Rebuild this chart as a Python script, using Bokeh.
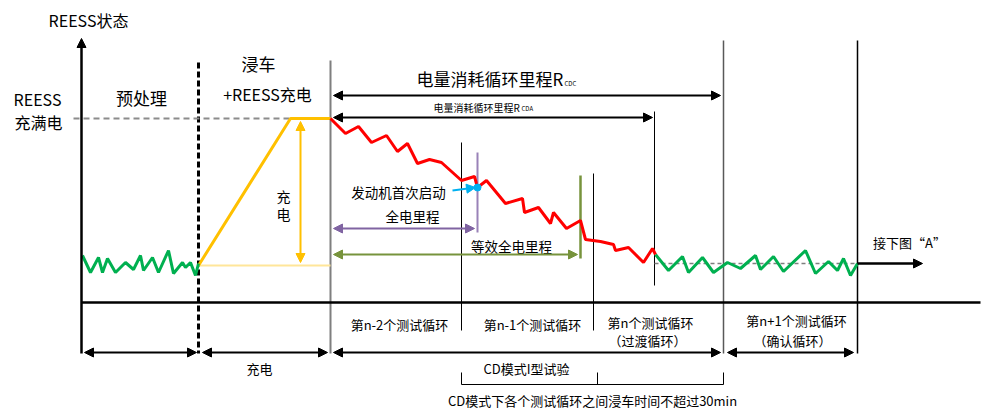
from bokeh.plotting import figure
from bokeh.models import Range1d, Arrow, NormalHead, ColumnDataSource
from bokeh.core.properties import value
from bokeh.embed import file_html
from bokeh.resources import INLINE

FONT = "Noto Sans CJK SC"

# ---- data (diagram coordinates, image-pixel space) ----
cs_pre_x = [82, 90, 98, 102, 107, 115, 125, 133, 140, 143, 152, 158, 168, 173, 182, 185, 190, 195, 198]
cs_pre_y = [255, 272, 257, 272, 258, 272, 262, 269, 255, 270, 257, 272, 250, 273, 262, 267, 262, 275, 263]

charge_x = [198, 290, 330]
charge_y = [265, 118, 118]

cd_x = [330, 345, 358, 371, 386, 397, 407, 417, 429, 441, 461, 474, 477, 486, 505, 522, 524, 538,
        550, 553, 566, 580, 585, 600, 613, 615, 628, 643, 652, 655]
cd_y = [118, 133, 126, 142, 135, 151, 143, 163, 159, 162, 180, 176, 187, 180, 203, 198, 212, 207,
        223, 212, 228, 220, 239, 241, 244, 250, 247, 262, 248, 254]

cs_post_x = [655, 668, 682, 688, 702, 713, 727, 740, 755, 760, 773, 783, 805, 815, 828, 837, 843, 850, 857]
cs_post_y = [254, 270, 256, 272, 257, 272, 262, 268, 255, 269, 256, 271, 250, 273, 261, 270, 258, 275, 263]

full_level = 118
cs_level = 263
engine_start = (477, 187)

# vertical guide lines: x, y_top, y_bottom, colour, width, dash
vlines = [
    (198, 62, 353, "black", 3, "6 3"),
    (330, 60, 353, "#7f7f7f", 2, "solid"),
    (461, 142, 330, "black", 1, "solid"),
    (477, 152, 232, "#9982B8", 2, "solid"),
    (580, 175, 258, "#77933C", 2.5, "solid"),
    (593, 173, 330, "black", 1, "solid"),
    (654, 111, 285, "black", 1, "solid"),
    (723, 40, 353, "#595959", 1.5, "solid"),
    (857, 40, 353, "black", 1.5, "solid"),
    (461, 372, 384, "black", 1, "solid"),
    (597, 372, 384, "black", 1, "solid"),
    (723, 372, 384, "black", 1, "solid"),
]

# horizontal lines: x0, x1, y, colour, width, dash
hlines = [
    (81, 980, 302, "black", 2.5, "solid"),
    (73, 290, full_level, "#8c8c8c", 2, "6 4"),
    (198, 330, 265, "#FFE699", 2, "solid"),
    (654, 857, cs_level, "#7f7f7f", 1.5, "4 3"),
    (461, 723, 384, "black", 1, "solid"),
]

# arrows: x0, y0, x1, y1, colour, width, double-headed
arrows = [
    (81, 353, 81, 38, "black", 2.5, False),
    (333, 95, 720, 95, "black", 2, True),
    (333, 117, 652, 117, "black", 2, True),
    (300, 121, 300, 262, "#FFC000", 2, True),
    (333, 228, 474, 228, "#8064A2", 2, True),
    (333, 254, 577, 254, "#77933C", 2, True),
    (452, 190, 475, 187, "#00B0F0", 2, False),
    (857, 263, 922, 263, "black", 2.5, False),
    (84, 352, 196, 352, "black", 2, True),
    (202, 352, 327, 352, "black", 2, True),
    (333, 352, 720, 352, "black", 2, True),
    (727, 352, 853, 352, "black", 2, True),
]

# texts: x, y, text, size, align
texts = [
    (88, 19, "REESS状态", "16px", "center"),
    (37, 98, "REESS", "16px", "center"),
    (38, 121, "充满电", "16px", "center"),
    (141, 97, "预处理", "17px", "center"),
    (258, 63, "浸车", "17px", "center"),
    (267, 93, "+REESS充电", "16px", "center"),
    (283, 195, "充", "14px", "center"),
    (283, 213, "电", "14px", "center"),
    (416, 78, "电量消耗循环里程R", "17px", "left"),
    (564, 83, "CDC", "6px", "left"),
    (433, 107, "电量消耗循环里程R", "10px", "left"),
    (521, 108, "CDA", "6px", "left"),
    (398, 191, "发动机首次启动", "13.5px", "center"),
    (412, 215, "全电里程", "13.5px", "center"),
    (511, 245, "等效全电里程", "13.5px", "center"),
    (909, 242, "接下图“A”", "13px", "center"),
    (399, 324, "第n-2个测试循环", "13px", "center"),
    (532, 324, "第n-1个测试循环", "13px", "center"),
    (650, 322, "第n个测试循环", "13px", "center"),
    (647, 340, "（过渡循环）", "13px", "center"),
    (796, 320, "第n+1个测试循环", "13px", "center"),
    (792, 340, "（确认循环）", "13px", "center"),
    (259, 368, "充电", "13px", "center"),
    (526, 368, "CD模式I型试验", "13px", "center"),
    (592, 400, "CD模式下各个测试循环之间浸车时间不超过30min", "13px", "center"),
]

# ---- figure ----
p = figure(width=987, height=414, output_backend="svg", toolbar_location=None,
           x_range=Range1d(0, 987), y_range=Range1d(414, 0),
           x_axis_location=None, y_axis_location=None, min_border=0)
p.grid.visible = False
p.outline_line_color = None
p.background_fill_color = "white"

for x, y0, y1, c, w, d in vlines:
    p.segment(x0=[x], y0=[y0], x1=[x], y1=[y1], line_color=c, line_width=w, line_dash=d)
for x0, x1, y, c, w, d in hlines:
    p.segment(x0=[x0], y0=[y], x1=[x1], y1=[y], line_color=c, line_width=w, line_dash=d)

p.line(charge_x, charge_y, line_color="#FFC000", line_width=3)
p.line(cs_pre_x, cs_pre_y, line_color="#00B050", line_width=3)
p.line(cs_post_x, cs_post_y, line_color="#00B050", line_width=3)
p.line(cd_x, cd_y, line_color="#FF0000", line_width=3)
p.scatter([engine_start[0]], [engine_start[1]], size=7, color="#00B0F0")

for x0, y0, x1, y1, c, w, dbl in arrows:
    end = NormalHead(size=9, fill_color=c, line_color=c, line_width=1)
    start = NormalHead(size=9, fill_color=c, line_color=c, line_width=1) if dbl else None
    p.add_layout(Arrow(x_start=x0, y_start=y0, x_end=x1, y_end=y1, line_color=c, line_width=w,
                       end=end, start=start))

src = ColumnDataSource(dict(x=[t[0] for t in texts], y=[t[1] for t in texts],
                            text=[t[2] for t in texts], size=[t[3] for t in texts],
                            align=[t[4] for t in texts]))
p.text(x="x", y="y", text="text", source=src, text_font=value(FONT), text_font_size="size",
       text_align="align", text_baseline="middle", text_color="black")

open("out.html", "w").write(file_html(p, INLINE))
